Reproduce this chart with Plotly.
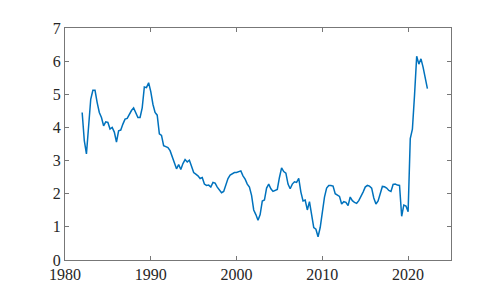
import pandas as pd
import plotly.graph_objects as go

# quarterly series, 1982Q1 .. 2022Q2
start_quarter = "1982Q1"
values = [
    4.45, 3.60, 3.20, 4.00,   # 1982
    4.85, 5.12, 5.12, 4.75,   # 1983
    4.45, 4.30, 4.05, 4.17,   # 1984
    4.15, 3.95, 4.00, 3.86,   # 1985
    3.56, 3.90, 3.92, 4.10,   # 1986
    4.25, 4.27, 4.41, 4.51,   # 1987
    4.59, 4.46, 4.30, 4.30,   # 1988
    4.59, 5.22, 5.20, 5.35,   # 1989
    5.08, 4.70, 4.45, 4.37,   # 1990
    3.81, 3.76, 3.45, 3.42,   # 1991
    3.39, 3.30, 3.12, 2.95,   # 1992
    2.75, 2.88, 2.73, 2.91,   # 1993
    3.03, 2.96, 3.01, 2.83,   # 1994
    2.64, 2.59, 2.54, 2.46,   # 1995
    2.49, 2.29, 2.25, 2.26,   # 1996
    2.20, 2.34, 2.32, 2.20,   # 1997
    2.10, 2.03, 2.07, 2.29,   # 1998
    2.46, 2.56, 2.61, 2.64,   # 1999
    2.64, 2.66, 2.69, 2.54,   # 2000
    2.44, 2.29, 2.20, 1.95,   # 2001
    1.51, 1.37, 1.20, 1.37,   # 2002
    1.78, 1.81, 2.17, 2.29,   # 2003
    2.15, 2.07, 2.10, 2.13,   # 2004
    2.49, 2.78, 2.67, 2.62,   # 2005
    2.29, 2.15, 2.29, 2.36,   # 2006
    2.34, 2.46, 2.05, 1.78,   # 2007
    1.81, 1.51, 1.76, 1.37,   # 2008
    0.98, 0.93, 0.70, 0.98,   # 2009
    1.41, 1.90, 2.17, 2.25,   # 2010
    2.25, 2.23, 2.00, 1.95,   # 2011
    1.92, 1.69, 1.76, 1.74,   # 2012
    1.64, 1.90, 1.79, 1.74,   # 2013
    1.71, 1.79, 1.90, 2.05,   # 2014
    2.20, 2.25, 2.23, 2.17,   # 2015
    1.87, 1.69, 1.78, 1.97,   # 2016
    2.22, 2.21, 2.17, 2.10,   # 2017
    2.07, 2.28, 2.29, 2.26,   # 2018
    2.25, 1.32, 1.66, 1.63,   # 2019
    1.46, 3.66, 3.95, 4.98,   # 2020
    6.15, 5.91, 6.07, 5.81,   # 2021
    5.47, 5.17,               # 2022
]

x_ticks = [1980, 1990, 2000, 2010, 2020]
y_ticks = [0, 1, 2, 3, 4, 5, 6, 7]

quarters = pd.period_range(start_quarter, periods=len(values), freq="Q")
years = [q.year + (q.quarter - 1) / 4 for q in quarters]

fig = go.Figure()
fig.add_trace(go.Scatter(x=years, y=values, mode="lines",
                         line=dict(color="#0072BD", width=1.5),
                         showlegend=False))

axis_style = dict(showline=True, mirror="ticks", linecolor="#777777", linewidth=1,
                  ticks="inside", ticklen=4, tickcolor="#777777",
                  showgrid=False, zeroline=False,
                  tickfont=dict(family="Liberation Serif", size=16, color="#262626"))

fig.update_xaxes(range=[1980, 2025], tickvals=x_ticks, **axis_style)
fig.update_yaxes(range=[0, 7], tickvals=y_ticks, **axis_style)

# page body adds an 8px offset, so margins are shifted to compensate
fig.update_layout(width=498, height=291,
                  margin=dict(l=57, r=55, t=13, b=39),
                  plot_bgcolor="white", paper_bgcolor="white")

fig.write_html("out.html")
